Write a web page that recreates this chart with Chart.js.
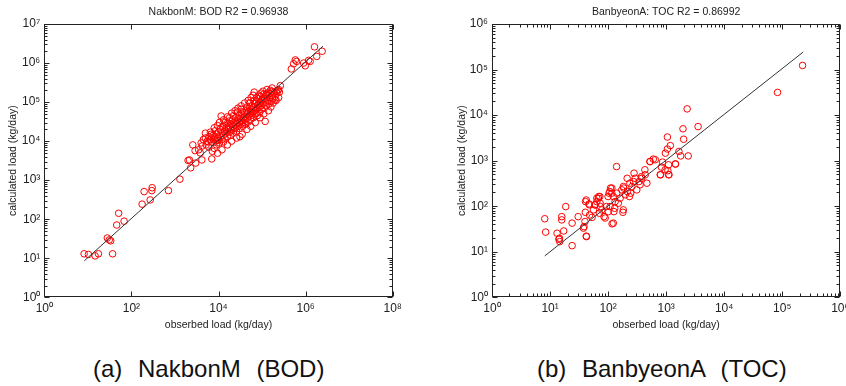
<!DOCTYPE html>
<html>
<head>
<meta charset="utf-8">
<script src="https://cdn.jsdelivr.net/npm/chart.js@4.4.0/dist/chart.umd.min.js"></script>
<style>
  body { margin: 0; background: #fff; width: 846px; height: 386px; overflow: hidden; position: relative;
         font-family: "Liberation Sans", Arial, sans-serif; }
  .box { position: absolute; top: 0; width: 423px; height: 340px; }
  .cap { position: absolute; top: 355px; font-size: 24px; word-spacing: 9px; color: #111; white-space: nowrap; }
</style>
</head>
<body>
<div class="box" style="left:0"><canvas id="bod" width="423" height="340"></canvas></div>
<div class="box" style="left:423px"><canvas id="toc" width="423" height="340"></canvas></div>
<div class="cap" style="left:93px">(a) NakbonM (BOD)</div>
<div class="cap" style="left:537px">(b) BanbyeonA (TOC)</div>

<script>
const bodPoints = [
  [8.2,13],[10.3,12.5],[14.7,11.5],[17.5,13],[28,33],[31,29.5],[33.5,28],[37,13],[46,71],[51,142],[68,89],
  [176,243],[196,510],[270,312],[294,540],[300,640],[710,540],[1300,1060],
  [2000,3200],[2150,3300],[2300,2070],[3000,2750],[4150,3300],[2570,8000],[2900,5700],[7000,3500],[9500,4900],
  [8400,18400],[11500,44000],[118000,32000],
  [3500,6000],[3800,5000],[4200,7500],[4000,9000],[4500,11000],[5000,12000],[5200,8000],[5500,10000],[5800,9500],
  [6000,13000],[6000,7000],[6500,11000],[6800,15000],[7000,9500],[7200,5500],[7500,14000],[7800,11000],
  [8000,12000],[8000,6500],[8500,10000],[9000,15000],[9000,8000],[9200,10500],[9500,12000],
  [10000,10500],[10000,17000],[10500,9000],[11000,13000],[11000,20000],[12000,11000],[12000,16000],
  [12500,24000],[13000,14000],[13000,9500],[13500,17500],[14000,19000],[14000,12000],[15000,22000],
  [15000,16000],[15500,28000],[16000,13000],[16500,21000],[17000,20000],[17000,25000],[18000,17000],
  [18000,33000],[19000,22000],[19000,14000],[20000,27000],[20000,19000],[21000,35000],[22000,24000],
  [22000,16000],[23000,30000],[24000,21000],[25000,40000],[25000,26000],[26000,18000],[26000,29000],
  [27000,33000],[28000,24000],[29000,45000],[30000,29000],[30000,21000],[31000,13000],[32000,38000],
  [33000,27000],[34000,50000],[35000,33000],[36000,24000],[37000,40000],[38000,42000],[39000,30000],
  [40000,55000],[41000,36000],[42000,27000],[44000,48000],[45000,62000],[46000,39000],[47000,53000],
  [48000,31000],[50000,58000],[50000,44000],[52000,70000],[54000,50000],[55000,36000],[57000,65000],
  [58000,52000],[59000,80000],[60000,46000],[62000,56000],[63000,70000],[64000,40000],[66000,75000],
  [68000,90000],[70000,60000],[72000,50000],[74000,100000],[76000,68000],[78000,45000],[80000,85000],
  [82000,120000],[85000,72000],[86000,95000],[88000,55000],[90000,100000],[92000,140000],[95000,80000],
  [97000,110000],[98000,65000],[100000,115000],[105000,90000],[108000,125000],[110000,160000],
  [112000,70000],[115000,125000],[120000,100000],[125000,80000],[125000,160000],[130000,150000],
  [135000,110000],[140000,175000],[145000,90000],[150000,130000],[150000,165000],[155000,200000],
  [160000,105000],[165000,185000],[170000,150000],[175000,120000],[180000,95000],[190000,180000],
  [200000,140000],[210000,110000],[210000,190000],[220000,170000],[230000,200000],[240000,130000],
  [250000,180000],[66000,180000],[130000,210000],[170000,230000],[263000,263000],[240000,210000],
  [200000,115000],
  [5000,16000],[6500,17000],[8000,22000],[9500,25000],[10500,30000],[13000,35000],[16000,42000],
  [20000,52000],[24000,60000],[28000,70000],[33000,80000],[40000,95000],[48000,110000],[56000,130000],
  [62000,150000],[12000,6000],[16000,8000],[20000,10000],[26000,12000],[35000,15000],[45000,20000],
  [55000,24000],[70000,30000],[90000,40000],[110000,50000],[140000,60000],[160000,75000],
  [14000,30000],[18000,40000],[22000,45000],[27000,55000],[33000,65000],[45000,75000],[52000,95000],
  [65000,110000],[75000,130000],[85000,150000],[95000,170000],[105000,190000],
  [470000,705000],[530000,960000],[580000,1.2e6],[620000,1.1e6],[900000,1e6],[980000,850000],
  [1.17e6,1.17e6],[1.27e6,1.1e6],[1.6e6,2.6e6],[1.8e6,1.48e6],[2.4e6,2e6]
];
const bodFit = [[8.3,8.6],[2.5e6,2.7e6]];

const tocPoints = [
  [224000,123000],[83000,31500],[2300,13700],[3550,5600],[1950,5000],[2000,2950],[1050,3300],[1180,2140],
  [1050,1800],[970,1460],[1660,1590],[1780,1270],[2400,1270],[1450,840],[865,930],[830,720],[1070,600],
  [1120,490],[800,490],[525,955],[600,1080],[430,630],[280,530],[140,740],
  [8.1,53],[8.4,27],[13.2,25.5],[14.2,18.8],[14.7,16.7],[17.2,28.6],[15.9,59],[15.9,50],[18.6,98],[24,13.6],
  [24,42.5],[30.5,59],[42,22],[38.5,35.6],[40,46],[40.6,73.5],[41,126],[47,112],[48,64],[53,57],[59,107],
  [64,150],[69,163],[74,98],[85,59],[94,98],[100,163],[104,193],[110,250],[117,41],[126,76],[130,90],
  [180,73.5],[186,250],[47.5,107],[56,83],[60,107],[64,126],[68,150],[73,116],[78,83],[71,70],[101,76],
  [108,98],[116,193],[116,250],[123,163],[132,126],[141,193],[150,116],[161,150],[172,228],[183,270],
  [183,83],[197,178],[215,210],[233,163],[245,193],[257,270],[274,347],[292,410],[312,228],[355,295],
  [380,410],[436,490],[466,320],[530,955],[650,1050],[790,490],[960,630],[1100,490],[1440,850],[1100,810],
  [89,55],[123,42.5],[37.6,33],[14.5,19.8],[42.5,21.5],[213,410],[237,320],[340,347],[375,445],[107,210],
  [72,163],[42,137]
];
const tocFit = [[8.1,8.1],[230000,243000]];

const bodXTicks = [1, 1e2, 1e4, 1e6, 1e8];
const bodYTicks = [1, 1e1, 1e2, 1e3, 1e4, 1e5, 1e6, 1e7];
const tocXTicks = [1, 1e1, 1e2, 1e3, 1e4, 1e5, 1e6];
const tocYTicks = [1, 1e1, 1e2, 1e3, 1e4, 1e5, 1e6];

const SUP = ['⁰','¹','²','³','⁴','⁵','⁶','⁷','⁸','⁹'];
function powLabel(v) { return '10' + SUP[Math.round(Math.log10(v))]; }

const INK = '#222';
const FONT = 'Liberation Sans, Arial, sans-serif';

// MATLAB-like frame: box, inward ticks on all four sides, title over the plot area
const framePlugin = {
  id: 'frame',
  afterDatasetsDraw(chart, args, o) {
    const { ctx, chartArea: a, scales: { x, y } } = chart;
    const L = Math.round(a.left) + 0.5, R = Math.round(a.right) - 0.5;
    const T = Math.round(a.top) + 0.5, B = Math.round(a.bottom) - 0.5;
    ctx.save();
    ctx.strokeStyle = INK;
    ctx.lineWidth = 1;
    ctx.strokeRect(L, T, R - L, B - T);
    ctx.beginPath();
    const xMark = (v, len) => {
      const p = Math.round(x.getPixelForValue(v)) + 0.5;
      ctx.moveTo(p, B); ctx.lineTo(p, B - len);
      ctx.moveTo(p, T); ctx.lineTo(p, T + len);
    };
    const yMark = (v, len) => {
      const p = Math.round(y.getPixelForValue(v)) + 0.5;
      ctx.moveTo(L, p); ctx.lineTo(L + len, p);
      ctx.moveTo(R, p); ctx.lineTo(R - len, p);
    };
    o.xTicks.forEach(v => xMark(v, 5));
    o.yTicks.forEach(v => yMark(v, 5));
    const minors = (ticks, fn) => {
      for (let d = 1; d < ticks[ticks.length - 1]; d *= 10)
        for (let m = 2; m <= 9; m++) fn(d * m, 3);
    };
    if (o.xMinor) minors(o.xTicks, xMark);
    if (o.yMinor) minors(o.yTicks, yMark);
    ctx.stroke();
    ctx.fillStyle = INK;
    ctx.font = '10.5px ' + FONT;
    ctx.textAlign = 'center';
    ctx.textBaseline = 'middle';
    ctx.fillText(o.title, (a.left + a.right) / 2, 12);
    ctx.restore();
  }
};

function makeChart(id, pts, fit, xTicks, yTicks, cfg) {
  const axisFont = { family: FONT, size: 12 };
  const titleFont = { family: FONT, size: 10.5 };
  new Chart(document.getElementById(id), {
    type: 'scatter',
    data: {
      datasets: [
        {
          type: 'line',
          data: fit.map(p => ({ x: p[0], y: p[1] })),
          borderColor: '#333',
          borderWidth: 1,
          pointRadius: 0,
          fill: false
        },
        {
          data: pts.map(p => ({ x: p[0], y: p[1] })),
          borderColor: 'rgb(255,0,0)',
          backgroundColor: 'rgba(0,0,0,0)',
          borderWidth: 1,
          pointRadius: 3.3
        }
      ]
    },
    options: {
      responsive: false,
      animation: false,
      events: [],
      layout: { padding: { left: 0, right: cfg.right, top: 24, bottom: 0 } },
      plugins: {
        legend: { display: false },
        tooltip: { enabled: false },
        frame: { title: cfg.title, xTicks: xTicks, yTicks: yTicks, xMinor: cfg.xMinor, yMinor: true }
      },
      scales: {
        x: {
          type: 'logarithmic',
          min: xTicks[0], max: xTicks[xTicks.length - 1],
          afterBuildTicks: s => { s.ticks = xTicks.map(v => ({ value: v })); },
          afterFit: s => { s.height = 340 - 297.3; s.paddingLeft = 0; s.paddingRight = 0; },
          grid: { display: false, drawTicks: false },
          border: { display: false },
          ticks: { callback: v => powLabel(v), font: axisFont, color: INK, padding: 4, maxRotation: 0, autoSkip: false },
          title: { display: true, text: 'obserbed load (kg/day)', font: titleFont, color: INK, padding: { top: 0, bottom: 9 } }
        },
        y: {
          type: 'logarithmic',
          min: yTicks[0], max: yTicks[yTicks.length - 1],
          afterBuildTicks: s => { s.ticks = yTicks.map(v => ({ value: v })); },
          afterFit: s => { s.width = cfg.left; s.paddingTop = 0; s.paddingBottom = 0; },
          grid: { display: false, drawTicks: false },
          border: { display: false },
          ticks: { callback: v => powLabel(v), font: axisFont, color: INK, padding: 4, autoSkip: false },
          title: { display: true, text: 'calculated load (kg/day)', font: titleFont, color: INK, padding: { top: cfg.ytPad, bottom: 0 } }
        }
      }
    },
    plugins: [framePlugin]
  });
}

makeChart('bod', bodPoints, bodFit, bodXTicks, bodYTicks,
  { title: 'NakbonM: BOD R2 = 0.96938', left: 44.3, right: 30.3, xMinor: false, ytPad: 7 });
makeChart('toc', tocPoints, tocFit, tocXTicks, tocYTicks,
  { title: 'BanbyeonA: TOC R2 = 0.86992', left: 69, right: 5.7, xMinor: true, ytPad: 33 });
</script>
</body>
</html>
